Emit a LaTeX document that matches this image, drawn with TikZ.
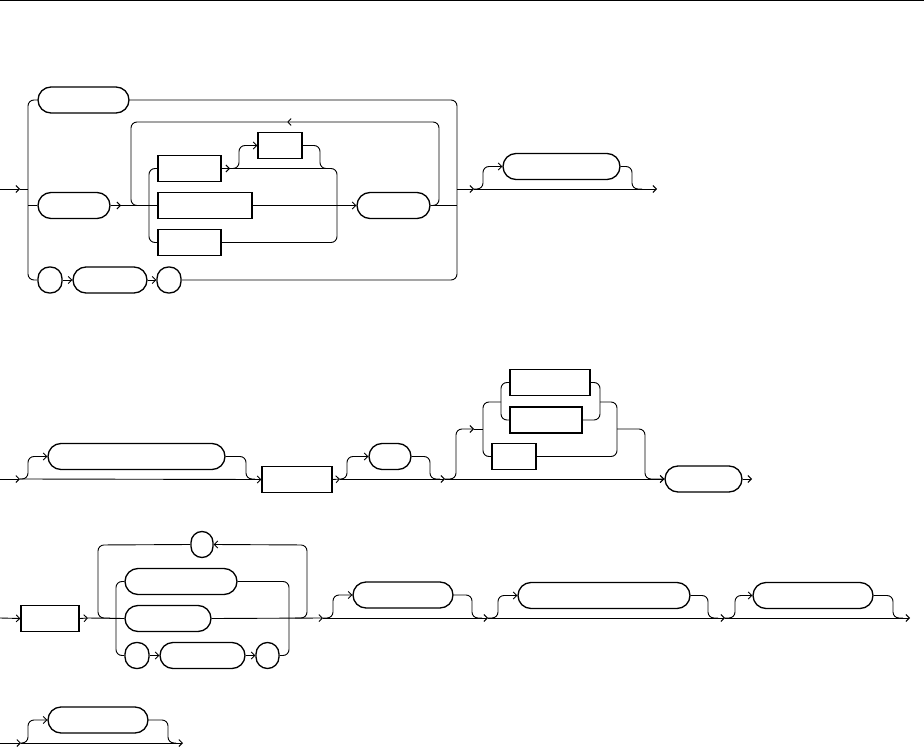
\documentclass[tikz,border=0pt]{standalone}
\usetikzlibrary{arrows.meta}
\tikzset{
  x=1pt, y=-1pt,
  ln/.style={line width=0.9pt, rounded corners=6pt},
  arr/.style={ln, -{Straight Barb[length=3.5pt,width=7pt]}},
  pill/.style={draw, line width=1.3pt, rounded corners=13pt, minimum height=26pt, inner sep=0pt, fill=white},
  rnd/.style={draw, line width=1.3pt, rounded corners=11.5pt, minimum height=26pt, inner sep=0pt, fill=white},
  rbox/.style={draw, line width=1.3pt, minimum height=26pt, inner sep=0pt, fill=white},
}
\begin{document}
\begin{tikzpicture}
\useasboundingbox (0,0) rectangle (924,749);
\draw[line width=1pt] (0,1) -- (924,1);

% ---------------- Section 1 ----------------
\node[pill, minimum width=91pt] (A1) at (83.5,100) {};
\node[pill, minimum width=72pt] (A2) at (74,205.5) {};
\node[rbox, minimum width=63pt] (ba) at (189.5,168.5) {};
\node[rbox, minimum width=94pt] (bb) at (205,205.5) {};
\node[rbox, minimum width=63pt] (bc) at (189.5,242.5) {};
\node[rbox, minimum width=44pt] (bd) at (280,145.5) {};
\node[pill, minimum width=73pt] (E) at (393.5,205.5) {};
\node[rnd, minimum width=24pt] (c1) at (50,280) {};
\node[pill, minimum width=74pt] (F) at (110,280) {};
\node[rnd, minimum width=24pt] (c2) at (169,280) {};
\node[pill, minimum width=117pt] (G) at (561.5,166.5) {};

\coordinate (s1in) at (0,189);
\coordinate (s1a) at (20,189);
\draw[arr] (s1in) -- (s1a);
\draw[ln] (s1a) -- (28,189);
\draw[ln] (A1.west) -- (28,100) -- (28,280) -- (c1.west);
\draw[ln] (28,205.5) -- (A2.west);
\coordinate (a2x) at (121,205.5);
\draw[arr] (A2.east) -- (a2x);
\draw[ln] (a2x) -- (bb.west);
% loop
\coordinate (lp) at (287,122);
\draw[arr] (E.east) -- (439,205.5) -- (439,122) -- (lp);
\draw[ln] (lp) -- (131,122) -- (131,205.5) -- (149,205.5);
% inner choice
\draw[ln] (ba.west) -- (149,168.5) -- (149,242.5) -- (bc.west);
\coordinate (bax) at (230,168.5);
\draw[arr] (ba.east) -- (bax);
\draw[ln] (bax) -- (337,168.5) -- (337,242.5) -- (bc.east);
\draw[arr] (bax) -- (239,168.5) -- (239,145.5) -- (bd.west);
\draw[ln] (bd.east) -- (320,145.5) -- (320,168.5) -- (330,168.5);
\draw[arr] (bb.east) -- (E.west);
% bottom branch
\draw[arr] (c1.east) -- (F.west);
\draw[arr] (F.east) -- (c2.west);
\draw[ln] (c2.east) -- (457,280) -- (457,100) -- (A1.east);
\draw[ln] (E.east) -- (457,205.5);
% exit
\coordinate (s1b) at (474,189);
\coordinate (s1out) at (657,189);
\draw[arr] (457,189) -- (s1b);
\draw[arr] (s1b) -- (s1out);
\draw[arr] (s1b) -- (483,189) -- (483,166.5) -- (G.west);
\draw[ln] (G.east) -- (632,166.5) -- (632,189) -- (642,189);

% ---------------- Section 2 ----------------
\node[pill, minimum width=177pt] (H) at (136.5,456.5) {};
\node[rbox, minimum width=70pt] (I) at (297,479.5) {};
\node[pill, minimum width=42pt] (J) at (390,456.5) {};
\node[rbox, minimum width=80pt] (K) at (550,382.5) {};
\node[rbox, minimum width=72pt] (L) at (546,420) {};
\node[rbox, minimum width=44pt] (M) at (514,456.5) {};
\node[pill, minimum width=77pt] (N) at (703.5,479) {};

\coordinate (s2in) at (0,479);
\coordinate (s2a) at (20,479);
\draw[arr] (s2in) -- (s2a);
\draw[arr] (s2a) -- (28,479) -- (28,456.5) -- (H.west);
\draw[ln] (H.east) -- (246,456.5) -- (246,479) -- (255,479);
\draw[arr] (s2a) -- (I.west);
\coordinate (s2b) at (340,479);
\draw[arr] (I.east) -- (s2b);
\draw[arr] (s2b) -- (347,479) -- (347,456.5) -- (J.west);
\draw[ln] (J.east) -- (430,456.5) -- (430,479) -- (440,479);
\coordinate (s2c) at (445,479);
\draw[arr] (s2b) -- (s2c);
\draw[arr] (s2c) -- (N.west);
\coordinate (s2d) at (474,429);
\draw[arr] (s2c) -- (456,479) -- (456,429) -- (s2d);
\draw[ln] (s2d) -- (483,429);
\draw[ln] (M.west) -- (483,456.5) -- (483,402) -- (501,402);
\draw[ln] (K.west) -- (501,382.5) -- (501,420) -- (L.west);
\draw[ln] (K.east) -- (600,382.5) -- (600,420) -- (L.east);
\draw[ln] (M.east) -- (617,456.5) -- (617,402) -- (600,402);
\draw[arr] (617,429) -- (645,429) -- (645,479) -- (N.west);
\coordinate (s2out) at (752,479);
\draw[arr] (N.east) -- (s2out);

% ---------------- Section 3 ----------------
\node[rbox, minimum width=58pt] (O) at (50,618.5) {};
\node[rnd, minimum width=22pt, rounded corners=11pt] (P) at (202,544.5) {};
\node[pill, minimum width=112pt] (Q) at (181,581.5) {};
\node[pill, minimum width=86pt] (R) at (168,618.5) {};
\node[rnd, minimum width=24pt] (S) at (137,655.5) {};
\node[pill, minimum width=85pt] (T) at (202.5,655.5) {};
\node[rnd, minimum width=23pt] (U) at (267.5,655.5) {};
\node[pill, minimum width=100pt] (V) at (403,595) {};
\node[pill, minimum width=172pt] (W) at (604,595.5) {};
\node[pill, minimum width=120pt] (X) at (813,595.5) {};

\draw[arr] (0,618) -- (O.west);
\coordinate (s3a) at (88,618);
\draw[arr] (O.east) -- (s3a);
\draw[ln] (s3a) -- (R.west);
\draw[arr] (295,618) -- (307,618) -- (307,545) -- (P.east);
\draw[ln] (P.west) -- (98,545) -- (98,618) -- (110,618);
\draw[ln] (Q.west) -- (116,581.5) -- (116,655.5) -- (S.west);
\draw[ln] (Q.east) -- (289,581.5) -- (289,655.5) -- (U.east);
\draw[arr] (S.east) -- (T.west);
\draw[arr] (T.east) -- (U.west);
\coordinate (s3b) at (323,618);
\draw[arr] (R.east) -- (s3b);
\draw[arr] (s3b) -- (333,618) -- (333,595) -- (V.west);
\draw[ln] (V.east) -- (472,595) -- (472,618) -- (482,618);
\coordinate (s3c) at (488,618);
\draw[arr] (s3b) -- (s3c);
\draw[arr] (s3c) -- (498,618) -- (498,595.5) -- (W.west);
\draw[ln] (W.east) -- (708,595.5) -- (708,618) -- (718,618);
\coordinate (s3d) at (725,618);
\draw[arr] (s3c) -- (s3d);
\draw[arr] (s3d) -- (735,618) -- (735,595.5) -- (X.west);
\draw[ln] (X.east) -- (893,595.5) -- (893,618) -- (903,618);
\draw[arr] (s3d) -- (910,618);

% ---------------- Section 4 ----------------
\node[pill, minimum width=100pt] (Y) at (98,720) {};
\coordinate (s4a) at (21,743);
\draw[arr] (0,743) -- (s4a);
\draw[arr] (s4a) -- (28,743) -- (28,720) -- (Y.west);
\draw[ln] (Y.east) -- (168,720) -- (168,743) -- (176,743);
\draw[arr] (s4a) -- (183,743);
\end{tikzpicture}
\end{document}
